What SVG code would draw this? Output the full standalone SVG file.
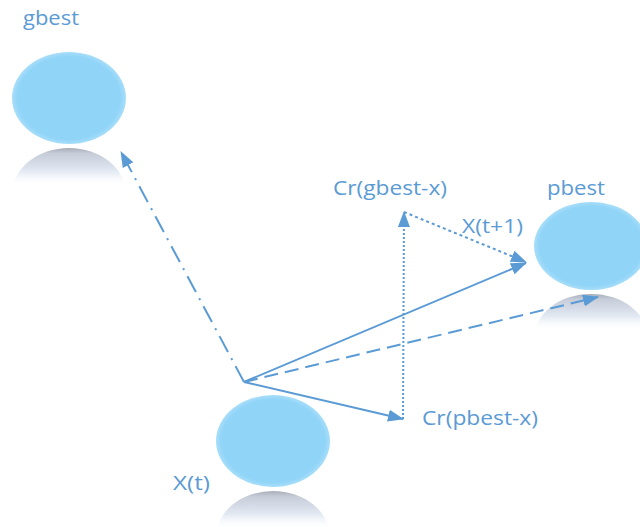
<svg xmlns="http://www.w3.org/2000/svg" width="640" height="527" viewBox="0 0 640 527">
<style>
.lbl{font-family:"Open Sans","Liberation Sans",Arial,sans-serif;font-size:20px;fill:#5B9BD5}
.ln{stroke:#5B9BD5;stroke-width:2;fill:none}
</style>
<defs>
<marker id="ah" viewBox="0 0 16 12" refX="15" refY="6" markerWidth="16" markerHeight="12" markerUnits="userSpaceOnUse" orient="auto">
<path d="M0,0 L16,6 L0,12 z" fill="#5B9BD5"/>
</marker>
<linearGradient id="refl" x1="0" y1="0" x2="0" y2="1">
<stop offset="0" stop-color="#a9adba"/>
<stop offset="0.06" stop-color="#c6ccd8"/>
<stop offset="0.25" stop-color="#e2e9f3"/>
<stop offset="0.42" stop-color="#ffffff" stop-opacity="0"/>
</linearGradient>
<radialGradient id="ballg" cx="0.5" cy="0.5" r="0.5">
<stop offset="0.9" stop-color="#90d4f8"/>
<stop offset="1" stop-color="#a8def9"/>
</radialGradient>
<clipPath id="c1"><rect x="0" y="147" width="140" height="36"/></clipPath>
<clipPath id="c2"><rect x="520" y="292" width="120" height="36"/></clipPath>
<clipPath id="c3"><rect x="200" y="489" width="150" height="38"/></clipPath>
</defs>
<g id="gbest">
<ellipse cx="69" cy="98" rx="57" ry="46" fill="url(#ballg)"/>
<ellipse cx="69" cy="194" rx="57" ry="46" fill="url(#refl)" clip-path="url(#c1)"/>
<text class="lbl" x="23" y="25" textLength="56" lengthAdjust="spacingAndGlyphs">gbest</text>
</g>
<g id="pbest">
<ellipse cx="591" cy="246" rx="57" ry="44" fill="url(#ballg)"/>
<ellipse cx="591" cy="338" rx="57" ry="44" fill="url(#refl)" clip-path="url(#c2)"/>
<text class="lbl" x="547" y="195" textLength="58" lengthAdjust="spacingAndGlyphs">pbest</text>
</g>
<g id="xt">
<ellipse cx="273" cy="441" rx="57" ry="46" fill="url(#ballg)"/>
<ellipse cx="273" cy="537" rx="57" ry="46" fill="url(#refl)" clip-path="url(#c3)"/>
<text class="lbl" x="173" y="490" textLength="37" lengthAdjust="spacingAndGlyphs">X(t)</text>
</g>
<g id="labels">
<text class="lbl" x="333" y="195" textLength="114" lengthAdjust="spacingAndGlyphs">Cr(gbest-x)</text>
<text class="lbl" x="462" y="233" textLength="61" lengthAdjust="spacingAndGlyphs">X(t+1)</text>
<text class="lbl" x="422" y="425" textLength="116" lengthAdjust="spacingAndGlyphs">Cr(pbest-x)</text>
</g>
<g id="connectors">
<line class="ln" x1="244" y1="382" x2="121" y2="152" stroke-dasharray="18 7 2 7" marker-end="url(#ah)"/>
<line class="ln" x1="244" y1="382" x2="526" y2="263" marker-end="url(#ah)"/>
<line class="ln" x1="244" y1="382" x2="598" y2="297" stroke-dasharray="14 7" marker-end="url(#ah)"/>
<line class="ln" x1="244" y1="382" x2="403" y2="419" marker-end="url(#ah)"/>
<line class="ln" x1="403" y1="419" x2="404" y2="212" stroke-dasharray="2 2" marker-end="url(#ah)"/>
<line class="ln" x1="404" y1="212" x2="526" y2="262" stroke-dasharray="3 3" marker-end="url(#ah)"/>
</g>
</svg>
